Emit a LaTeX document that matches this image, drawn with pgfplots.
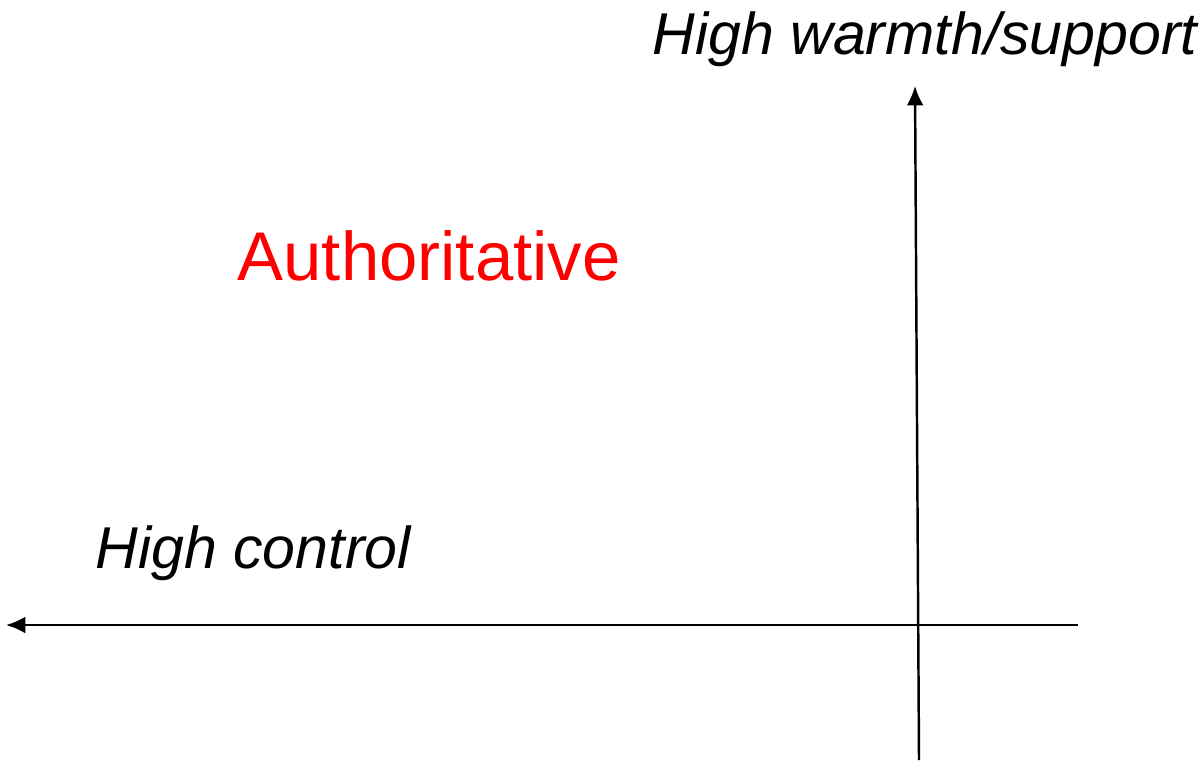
\documentclass[border=0pt]{standalone}
\usepackage{fontspec}
\setmainfont{Liberation Sans}
\usepackage{pgfplots}
\pgfplotsset{compat=1.18}
\usetikzlibrary{arrows.meta}
\begin{document}
\begin{tikzpicture}
\begin{axis}[
  width=11.99cm, height=7.61cm, scale only axis,
  xmin=0, xmax=1199, ymin=0, ymax=761,
  hide axis, clip=false,
]
% horizontal arrow (control), pointing left
\addplot[black, line width=0.7pt, -{Latex[length=5.5pt,width=4.8pt]}] coordinates {(1078,136) (6,136)};
% vertical arrow (warmth/support), pointing up
\addplot[black, line width=0.7pt, -{Latex[length=5.5pt,width=4.8pt]}] coordinates {(919,1) (915,675)};
\node[anchor=base west, inner sep=0pt, font=\fontsize{16.8pt}{18pt}\selectfont\itshape] at (axis cs:652,706) {High warmth/support};
\node[anchor=base west, inner sep=0pt, font=\fontsize{16.8pt}{18pt}\selectfont\itshape] at (axis cs:95,193) {High control};
\node[anchor=base west, inner sep=0pt, text=red, font=\fontsize{19.6pt}{22pt}\selectfont] at (axis cs:237,481) {Authoritative};
\end{axis}
\pgfresetboundingbox
\path[use as bounding box] (current axis.south west) rectangle (current axis.north east);
\end{tikzpicture}
\end{document}
